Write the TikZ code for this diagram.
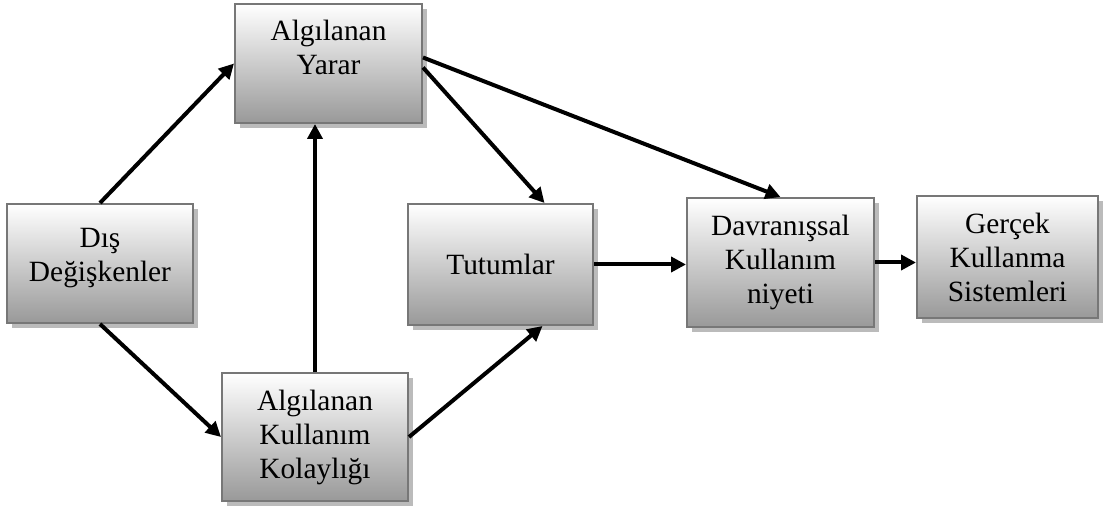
\documentclass[tikz,border=0pt]{standalone}
\usepackage{fontspec}
\setmainfont{Liberation Serif}
\usepackage{tikz}
\usetikzlibrary{arrows.meta, positioning, calc, shadows}
\definecolor{figborder}{HTML}{777777}
\definecolor{figshade}{HTML}{999999}
\definecolor{figshadow}{HTML}{BBBBBB}
\tikzset{
  figbox/.style={draw=figborder, line width=1pt, top color=white, bottom color=figshade,
    align=center, inner sep=2pt, font=\fontsize{14.7}{17}\selectfont,
    drop shadow={shadow xshift=2.5pt, shadow yshift=-2.5pt, fill=figshadow, opacity=1}},
  figtop/.style={text depth=#1},
  figarrow/.style={-{Triangle[length=7.5pt, width=7.5pt]}, line width=2pt, black},
}

\begin{document}
\begin{tikzpicture}[x=0.5pt,y=-0.5pt]
  \useasboundingbox (0,0) rectangle (1105,508);
  % Kutular (Pixelkoordinaten)
  \node[figbox, figtop=9pt, minimum width=93pt, minimum height=59.5pt] (dis) at (100,263.5) {Dış\\Değişkenler};
  \node[figbox, figtop=16pt, minimum width=93.5pt, minimum height=59.5pt] (yarar) at (328.5,63.5) {Algılanan\\Yarar};
  \node[figbox, minimum width=93pt, minimum height=64pt] (kol) at (315,437) {Algılanan\\Kullanım\\Kolaylığı};
  \node[figbox, minimum width=92.5pt, minimum height=60.5pt] (tut) at (500.5,264.5) {Tutumlar};
  \node[figbox, minimum width=93.5pt, minimum height=64.5pt] (dav) at (780.5,262.5) {Davranışsal\\Kullanım\\niyeti};
  \node[figbox, minimum width=90.5pt, minimum height=61pt] (ger) at (1007.5,257) {Gerçek\\Kullanma\\Sistemleri};

  % Pfeile
  \draw[figarrow] (dis.north) -- (yarar.west);
  \draw[figarrow] (dis.south) -- (kol.west);
  \draw[figarrow] (kol.north) -- (kol.north |- yarar.south);
  \draw[figarrow] (kol.east) -- ([xshift=21pt]tut.south);
  \draw[figarrow] ([yshift=-2pt]yarar.east) -- ([xshift=22pt]tut.north);
  \draw[figarrow] ([yshift=3pt]yarar.east) -- (dav.north);
  \draw[figarrow] (tut.east) -- (tut.east -| dav.west);
  \draw[figarrow] (dav.east) -- (dav.east -| ger.west);
\end{tikzpicture}
\end{document}
